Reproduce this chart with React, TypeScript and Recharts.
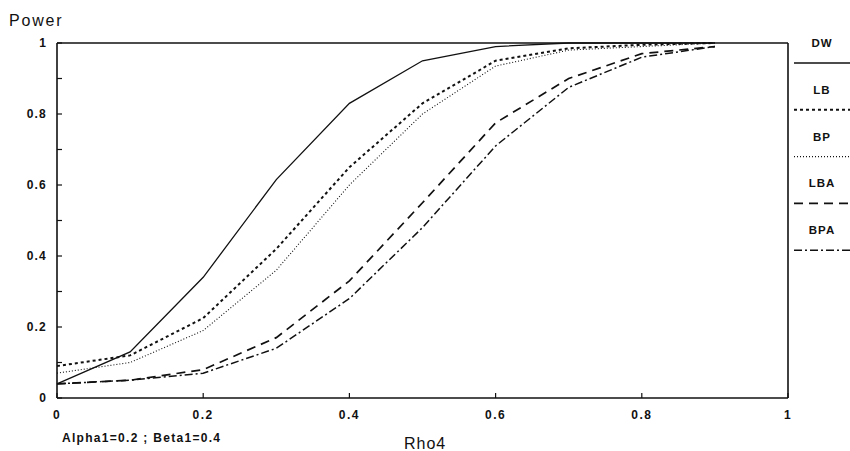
import React from "react";
import { LineChart, Line, XAxis, YAxis, ReferenceLine } from "recharts";

const rho = [0, 0.1, 0.2, 0.3, 0.4, 0.5, 0.6, 0.7, 0.8, 0.9];
const dw = [0.04, 0.13, 0.34, 0.615, 0.83, 0.95, 0.99, 1.0, 1.0, 1.0];
const lb = [0.09, 0.12, 0.225, 0.42, 0.65, 0.83, 0.95, 0.985, 0.995, 1.0];
const bp = [0.07, 0.1, 0.19, 0.36, 0.6, 0.8, 0.935, 0.98, 0.99, 1.0];
const lba = [0.04, 0.05, 0.08, 0.17, 0.33, 0.55, 0.775, 0.9, 0.97, 0.99];
const bpa = [0.04, 0.05, 0.07, 0.14, 0.28, 0.48, 0.71, 0.875, 0.96, 0.99];

const xTicks = [0, 0.2, 0.4, 0.6, 0.8, 1];
const yTicks = [0, 0.1, 0.2, 0.3, 0.4, 0.5, 0.6, 0.7, 0.8, 0.9, 1];
const yLabelled = [0, 0.2, 0.4, 0.6, 0.8, 1];

const series = [
  { key: "DW", dash: undefined, width: 1.3 },
  { key: "LB", dash: "3 3", width: 2 },
  { key: "BP", dash: "1 2", width: 1.1 },
  { key: "LBA", dash: "9 6", width: 1.7 },
  { key: "BPA", dash: "8 3 2 3", width: 1.5 },
];

const data = rho.map((r, i) => ({
  rho: r,
  DW: dw[i],
  LB: lb[i],
  BP: bp[i],
  LBA: lba[i],
  BPA: bpa[i],
}));

const font = "'Liberation Sans', Arial, sans-serif";
const ink = "#111";

function YTick(props: any) {
  const { x, y, payload } = props;
  if (!yLabelled.includes(payload.value)) return null;
  return (
    <text x={x} y={y} dy="0.35em" textAnchor="end" fontSize={12} fontWeight="bold" fill={ink} letterSpacing={1.2} fontFamily={font}>
      {String(payload.value)}
    </text>
  );
}

function XTick(props: any) {
  const { x, y, payload } = props;
  return (
    <text x={x} y={y} dy="0.71em" textAnchor="middle" fontSize={12} fontWeight="bold" fill={ink} letterSpacing={1.5} fontFamily={font}>
      {String(payload.value)}
    </text>
  );
}

export default function App() {
  return (
    <div style={{ position: "absolute", left: 0, top: 0, width: 850, height: 451, background: "#fff", fontFamily: font }}>
      <LineChart width={850} height={451} data={data} margin={{ top: 43, right: 62, bottom: 0, left: 0 }}>
        <XAxis
          dataKey="rho"
          type="number"
          domain={[0, 1]}
          ticks={xTicks}
          height={53}
          tickSize={-5}
          tickMargin={17}
          tick={<XTick />}
          axisLine={{ stroke: ink, strokeWidth: 1.6 }}
          tickLine={{ stroke: ink, strokeWidth: 1.2 }}
        />
        <YAxis
          type="number"
          domain={[0, 1]}
          ticks={yTicks}
          width={57}
          tickSize={-5}
          tickMargin={15}
          tick={<YTick />}
          axisLine={{ stroke: ink, strokeWidth: 1.6 }}
          tickLine={{ stroke: ink, strokeWidth: 1.2 }}
        />
        <ReferenceLine y={1} stroke={ink} strokeWidth={1.6} />
        <ReferenceLine x={1} stroke={ink} strokeWidth={1.6} />
        {series.map((s) => (
          <Line
            key={s.key}
            dataKey={s.key}
            type="linear"
            stroke={ink}
            strokeWidth={s.width}
            strokeDasharray={s.dash}
            dot={false}
            activeDot={false}
            isAnimationActive={false}
          />
        ))}
      </LineChart>
      <svg width={850} height={451} style={{ position: "absolute", left: 0, top: 0, pointerEvents: "none" }}>
        <text x={9} y={26} fontSize={16} fill={ink} letterSpacing={1.8} fontFamily={font}>Power</text>
        <text x={62} y={442} fontSize={12} fontWeight="bold" fill={ink} letterSpacing={1.3} fontFamily={font}>Alpha1=0.2 ; Beta1=0.4</text>
        <text x={404} y={449} fontSize={16} fill={ink} letterSpacing={1} fontFamily={font}>Rho4</text>
        {series.map((s, i) => (
          <g key={s.key}>
            <text x={822} y={47 + i * 46.8} textAnchor="middle" fontSize={11.5} fontWeight="bold" fill={ink} letterSpacing={1} fontFamily={font}>{s.key}</text>
            <line x1={794} x2={850} y1={63 + i * 46.8} y2={63 + i * 46.8} stroke={ink} strokeWidth={s.width} strokeDasharray={s.dash} />
          </g>
        ))}
      </svg>
    </div>
  );
}
